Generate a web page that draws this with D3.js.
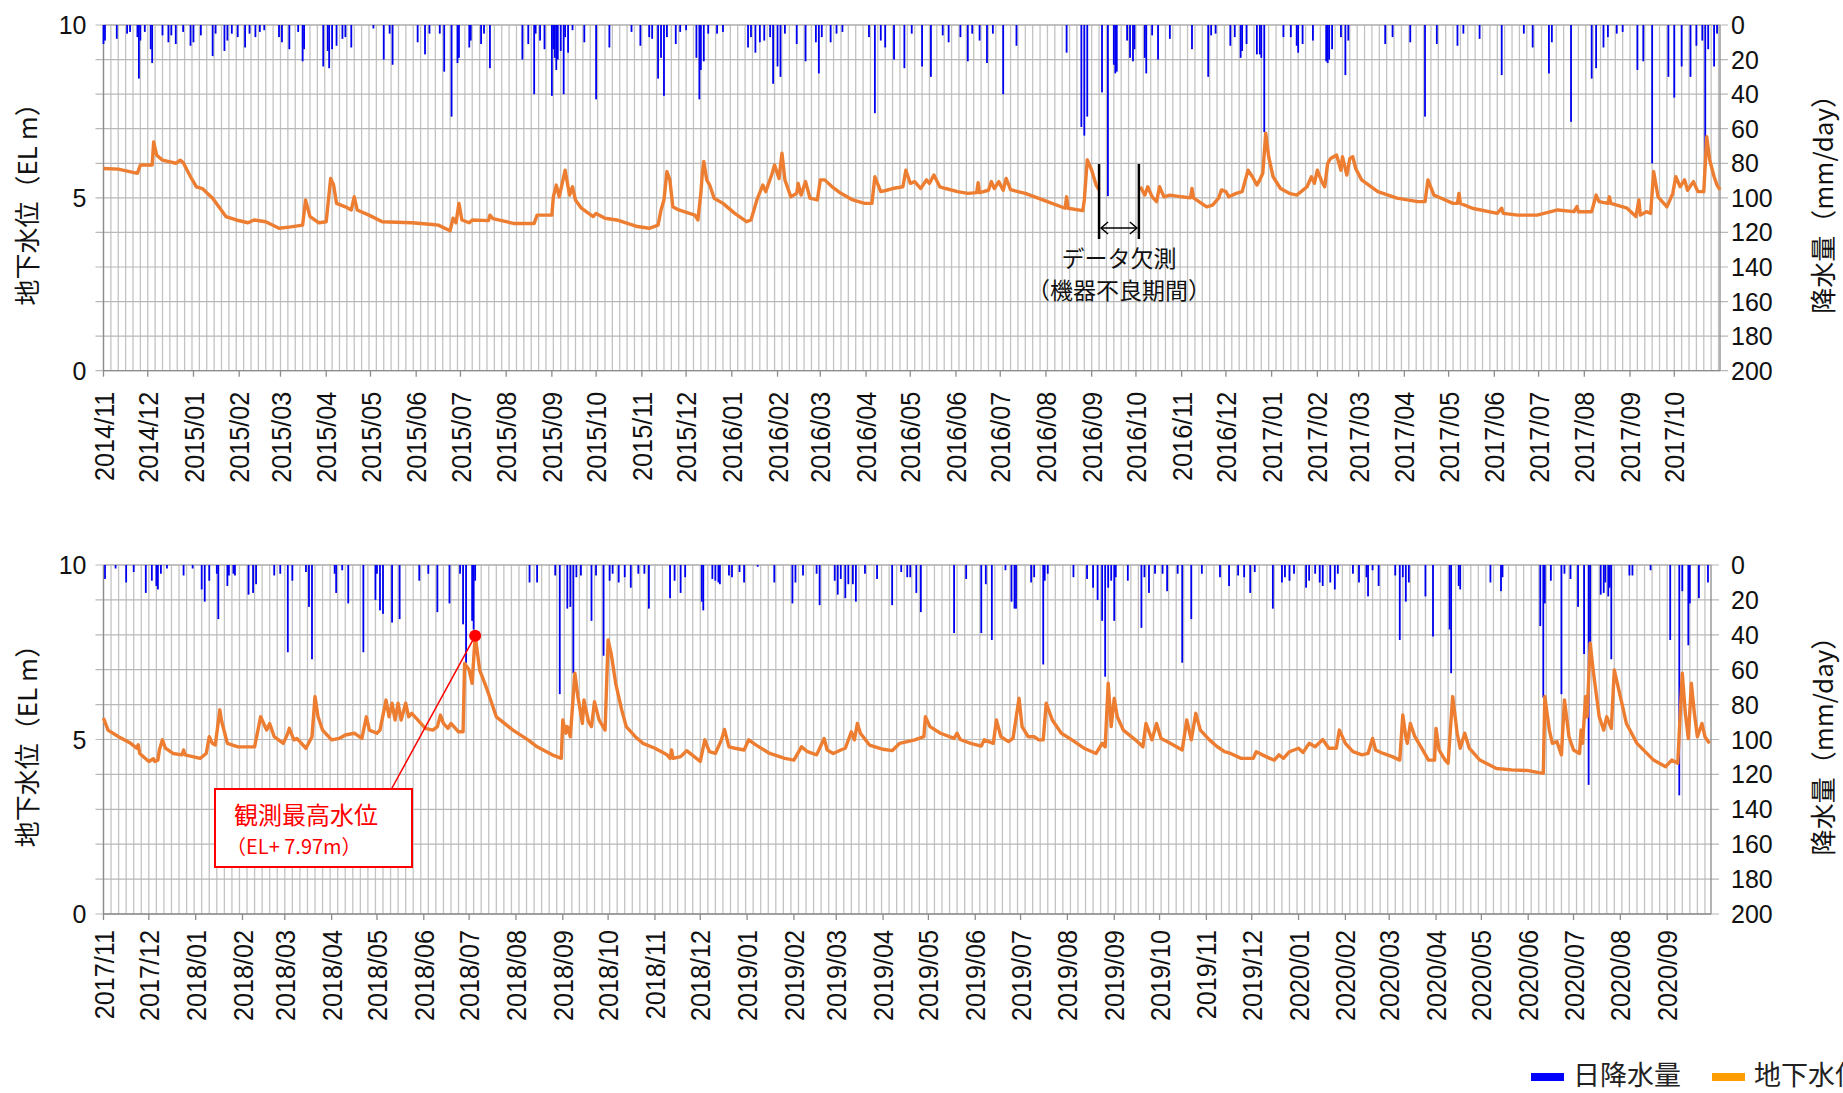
<!DOCTYPE html>
<html><head><meta charset="utf-8">
<script src="https://cdn.jsdelivr.net/npm/d3@7"></script>
<style>body{margin:0;background:#fff}svg{display:block}</style>
</head><body><svg id="c" width="1843" height="1093"></svg>
<script>
// ---------- DATA ----------
const topTickLabels = ["2014/11","2014/12","2015/01","2015/02","2015/03","2015/04","2015/05","2015/06","2015/07","2015/08","2015/09","2015/10","2015/11","2015/12","2016/01","2016/02","2016/03","2016/04","2016/05","2016/06","2016/07","2016/08","2016/09","2016/10","2016/11","2016/12","2017/01","2017/02","2017/03","2017/04","2017/05","2017/06","2017/07","2017/08","2017/09","2017/10"];
const bottomTickLabels = ["2017/11","2017/12","2018/01","2018/02","2018/03","2018/04","2018/05","2018/06","2018/07","2018/08","2018/09","2018/10","2018/11","2018/12","2019/01","2019/02","2019/03","2019/04","2019/05","2019/06","2019/07","2019/08","2019/09","2019/10","2019/11","2019/12","2020/01","2020/02","2020/03","2020/04","2020/05","2020/06","2020/07","2020/08","2020/09"];
const levelTickValues = [0,5,10];
const rainTickValues = [0,20,40,60,80,100,120,140,160,180,200];
const topRange = ["2014-11-01","2017-11-01"];
const bottomRange = ["2017-11-01","2020-09-30"];

// groundwater level (EL m), top period; null = missing data
const gwTop = [["2014-11-01",5.85],["2014-11-11",5.83],["2014-11-24",5.71],["2014-11-26",5.95],["2014-12-04",5.95],["2014-12-05",6.62],["2014-12-07",6.24],["2014-12-11",6.09],["2014-12-20",6.00],["2014-12-23",6.09],["2014-12-25",6.02],["2014-12-30",5.61],["2015-01-03",5.32],["2015-01-07",5.27],["2015-01-14",4.99],["2015-01-23",4.46],["2015-01-30",4.36],["2015-02-07",4.28],["2015-02-11",4.36],["2015-02-19",4.31],["2015-02-28",4.12],["2015-03-08",4.16],["2015-03-16",4.21],["2015-03-18",4.94],["2015-03-21",4.46],["2015-03-27",4.28],["2015-04-01",4.31],["2015-04-04",5.56],["2015-04-06",5.37],["2015-04-08",4.84],["2015-04-14",4.74],["2015-04-18",4.65],["2015-04-20",5.03],["2015-04-22",4.65],["2015-04-30",4.50],["2015-05-09",4.31],["2015-05-29",4.28],["2015-06-12",4.23],["2015-06-16",4.21],["2015-06-24",4.05],["2015-06-26",4.41],["2015-06-28",4.28],["2015-06-30",4.84],["2015-07-02",4.36],["2015-07-07",4.28],["2015-07-09",4.36],["2015-07-20",4.34],["2015-07-21",4.50],["2015-07-23",4.40],["2015-08-06",4.26],["2015-08-20",4.26],["2015-08-22",4.50],["2015-09-01",4.50],["2015-09-02",5.03],["2015-09-04",5.37],["2015-09-06",5.03],["2015-09-07",5.22],["2015-09-10",5.80],["2015-09-13",5.08],["2015-09-15",5.32],["2015-09-17",4.94],["2015-09-21",4.70],["2015-09-29",4.46],["2015-10-01",4.55],["2015-10-07",4.41],["2015-10-15",4.36],["2015-10-29",4.17],["2015-11-06",4.12],["2015-11-12",4.21],["2015-11-14",4.65],["2015-11-16",4.94],["2015-11-18",5.76],["2015-11-20",5.52],["2015-11-22",4.74],["2015-11-26",4.65],["2015-12-07",4.50],["2015-12-09",4.36],["2015-12-11",5.13],["2015-12-12",5.71],["2015-12-13",6.05],["2015-12-15",5.52],["2015-12-17",5.37],["2015-12-20",4.99],["2015-12-26",4.84],["2016-01-03",4.55],["2016-01-11",4.31],["2016-01-14",4.36],["2016-01-18",4.94],["2016-01-22",5.37],["2016-01-24",5.18],["2016-01-28",5.66],["2016-01-30",5.95],["2016-02-02",5.56],["2016-02-04",6.29],["2016-02-06",5.52],["2016-02-10",5.03],["2016-02-14",5.13],["2016-02-15",5.42],["2016-02-17",5.08],["2016-02-20",5.47],["2016-02-23",4.99],["2016-02-28",4.94],["2016-03-01",5.52],["2016-03-04",5.52],["2016-03-09",5.32],["2016-03-15",5.13],["2016-03-23",4.94],["2016-03-31",4.84],["2016-04-05",4.84],["2016-04-07",5.61],["2016-04-11",5.18],["2016-04-15",5.22],["2016-04-19",5.27],["2016-04-26",5.32],["2016-04-28",5.80],["2016-05-01",5.42],["2016-05-04",5.47],["2016-05-08",5.27],["2016-05-12",5.52],["2016-05-14",5.42],["2016-05-17",5.66],["2016-05-21",5.32],["2016-05-25",5.27],["2016-06-02",5.18],["2016-06-09",5.13],["2016-06-15",5.15],["2016-06-16",5.44],["2016-06-17",5.15],["2016-06-23",5.22],["2016-06-25",5.47],["2016-06-27",5.27],["2016-06-30",5.47],["2016-07-03",5.22],["2016-07-05",5.56],["2016-07-08",5.24],["2016-07-13",5.18],["2016-07-18",5.13],["2016-08-02",4.89],["2016-08-14",4.70],["2016-08-15",5.03],["2016-08-16",4.70],["2016-08-26",4.63],["2016-08-27",4.94],["2016-08-29",6.10],["2016-09-01",5.80],["2016-09-04",5.37],["2016-09-06",5.23],["2016-09-07",null],["2016-10-03",null],["2016-10-04",5.32],["2016-10-07",5.08],["2016-10-09",5.32],["2016-10-12",5.03],["2016-10-15",4.89],["2016-10-17",5.32],["2016-10-20",5.03],["2016-10-24",5.08],["2016-11-01",5.03],["2016-11-07",5.00],["2016-11-08",5.27],["2016-11-09",5.00],["2016-11-18",4.74],["2016-11-22",4.79],["2016-11-26",4.99],["2016-11-28",5.23],["2016-12-01",5.18],["2016-12-03",5.03],["2016-12-08",5.13],["2016-12-12",5.18],["2016-12-16",5.80],["2016-12-19",5.61],["2016-12-22",5.37],["2016-12-24",5.52],["2016-12-26",5.71],["2016-12-28",6.87],["2016-12-30",6.19],["2017-01-02",5.61],["2017-01-07",5.27],["2017-01-13",5.13],["2017-01-18",5.08],["2017-01-21",5.18],["2017-01-25",5.32],["2017-01-28",5.61],["2017-01-30",5.42],["2017-02-01",5.80],["2017-02-04",5.47],["2017-02-06",5.32],["2017-02-08",6.00],["2017-02-10",6.14],["2017-02-14",6.24],["2017-02-17",5.80],["2017-02-18",6.19],["2017-02-21",5.66],["2017-02-23",6.14],["2017-02-25",6.19],["2017-02-27",5.85],["2017-03-03",5.52],["2017-03-14",5.18],["2017-03-27",4.99],["2017-04-10",4.89],["2017-04-15",4.89],["2017-04-17",5.52],["2017-04-21",5.08],["2017-04-26",4.99],["2017-05-04",4.84],["2017-05-07",4.84],["2017-05-08",5.13],["2017-05-09",4.84],["2017-05-17",4.70],["2017-06-03",4.55],["2017-06-06",4.70],["2017-06-07",4.55],["2017-06-17",4.50],["2017-06-30",4.50],["2017-07-14",4.65],["2017-07-25",4.60],["2017-07-27",4.75],["2017-07-28",4.60],["2017-08-06",4.60],["2017-08-09",5.08],["2017-08-11",4.89],["2017-08-17",4.84],["2017-08-18",5.03],["2017-08-19",4.84],["2017-08-30",4.70],["2017-09-05",4.46],["2017-09-07",4.94],["2017-09-08",4.50],["2017-09-12",4.60],["2017-09-15",4.55],["2017-09-17",5.76],["2017-09-20",5.03],["2017-09-26",4.74],["2017-09-30",5.13],["2017-10-02",5.61],["2017-10-05",5.32],["2017-10-08",5.52],["2017-10-10",5.22],["2017-10-14",5.47],["2017-10-17",5.18],["2017-10-21",5.18],["2017-10-23",6.77],["2017-10-25",6.10],["2017-10-28",5.61],["2017-10-30",5.37],["2017-11-01",5.23]];

// daily rainfall (mm/day), top period (days not listed = 0)
const rainTop = [["2014-11-01",11],["2014-11-02",9],["2014-11-10",8],["2014-11-17",5],["2014-11-19",4],["2014-11-24",7],["2014-11-25",31],["2014-11-26",9],["2014-11-29",4],["2014-12-03",14],["2014-12-04",22],["2014-12-11",6],["2014-12-15",10],["2014-12-17",6],["2014-12-20",11],["2014-12-25",4],["2014-12-30",12],["2015-01-01",10],["2015-01-06",6],["2015-01-14",18],["2015-01-16",5],["2015-01-22",15],["2015-01-24",9],["2015-01-27",5],["2015-01-31",7],["2015-02-05",13],["2015-02-08",5],["2015-02-12",7],["2015-02-15",4],["2015-02-18",3],["2015-02-28",7],["2015-03-02",10],["2015-03-07",14],["2015-03-13",4],["2015-03-16",21],["2015-03-17",14],["2015-03-30",24],["2015-04-02",15],["2015-04-03",25],["2015-04-05",14],["2015-04-08",12],["2015-04-12",8],["2015-04-14",7],["2015-04-18",13],["2015-05-03",2],["2015-05-10",20],["2015-05-14",5],["2015-05-16",23],["2015-06-02",10],["2015-06-07",17],["2015-06-10",5],["2015-06-17",5],["2015-06-20",27],["2015-06-25",53],["2015-06-29",22],["2015-06-30",19],["2015-07-07",13],["2015-07-08",9],["2015-07-15",11],["2015-07-17",5],["2015-07-21",25],["2015-08-12",20],["2015-08-16",11],["2015-08-20",40],["2015-08-21",5],["2015-08-24",9],["2015-08-27",14],["2015-09-01",41],["2015-09-02",14],["2015-09-03",19],["2015-09-04",26],["2015-09-05",20],["2015-09-07",15],["2015-09-09",40],["2015-09-10",7],["2015-09-12",16],["2015-09-15",3],["2015-09-23",10],["2015-10-01",43],["2015-10-10",13],["2015-10-25",4],["2015-10-31",12],["2015-11-06",7],["2015-11-08",8],["2015-11-12",31],["2015-11-14",19],["2015-11-16",41],["2015-11-18",7],["2015-11-24",11],["2015-11-27",4],["2015-12-01",3],["2015-12-08",19],["2015-12-10",43],["2015-12-11",26],["2015-12-13",21],["2015-12-16",5],["2015-12-22",5],["2015-12-26",4],["2016-01-12",13],["2016-01-14",7],["2016-01-17",16],["2016-01-20",10],["2016-01-23",9],["2016-01-27",7],["2016-01-29",34],["2016-02-01",24],["2016-02-03",30],["2016-02-06",5],["2016-02-14",11],["2016-02-20",21],["2016-02-27",10],["2016-02-29",28],["2016-03-02",7],["2016-03-08",10],["2016-03-12",5],["2016-03-16",4],["2016-04-03",7],["2016-04-07",51],["2016-04-11",9],["2016-04-14",13],["2016-04-20",20],["2016-04-27",25],["2016-05-02",5],["2016-05-09",24],["2016-05-15",30],["2016-05-23",6],["2016-05-27",10],["2016-06-04",7],["2016-06-09",21],["2016-06-12",5],["2016-06-17",9],["2016-06-22",22],["2016-06-26",5],["2016-07-03",40],["2016-07-12",12],["2016-08-15",16],["2016-08-25",59],["2016-08-27",64],["2016-08-29",53],["2016-09-08",39],["2016-09-12",99],["2016-09-16",23],["2016-09-17",28],["2016-09-18",27],["2016-09-25",9],["2016-09-27",19],["2016-09-29",21],["2016-09-30",14],["2016-10-07",19],["2016-10-08",28],["2016-10-12",6],["2016-10-16",20],["2016-10-24",8],["2016-11-08",14],["2016-11-19",30],["2016-11-21",6],["2016-11-24",5],["2016-12-04",12],["2016-12-07",7],["2016-12-11",19],["2016-12-12",15],["2016-12-15",11],["2016-12-22",17],["2016-12-24",17],["2016-12-25",19],["2016-12-27",62],["2017-01-09",7],["2017-01-14",7],["2017-01-18",12],["2017-01-19",16],["2017-01-22",11],["2017-01-29",9],["2017-02-07",21],["2017-02-08",22],["2017-02-09",20],["2017-02-11",14],["2017-02-17",7],["2017-02-20",29],["2017-02-22",9],["2017-03-19",11],["2017-03-24",7],["2017-04-05",10],["2017-04-15",53],["2017-04-23",11],["2017-05-07",12],["2017-05-11",5],["2017-05-22",8],["2017-06-06",29],["2017-06-21",5],["2017-06-27",13],["2017-07-08",28],["2017-07-10",10],["2017-07-23",56],["2017-08-06",31],["2017-08-09",25],["2017-08-14",13],["2017-08-17",7],["2017-08-23",5],["2017-08-27",4],["2017-09-06",26],["2017-09-10",21],["2017-09-16",80],["2017-09-27",30],["2017-10-01",42],["2017-10-06",24],["2017-10-12",30],["2017-10-16",12],["2017-10-20",9],["2017-10-22",82],["2017-10-24",14],["2017-10-28",24],["2017-10-30",5]];

// groundwater level (EL m), bottom period
const gwBottom = [["2017-11-01",5.61],["2017-11-04",5.27],["2017-11-11",5.08],["2017-11-19",4.89],["2017-11-23",4.75],["2017-11-24",4.85],["2017-11-25",4.60],["2017-12-01",4.37],["2017-12-04",4.45],["2017-12-05",4.37],["2017-12-07",4.41],["2017-12-08",4.70],["2017-12-10",4.99],["2017-12-12",4.75],["2017-12-17",4.60],["2017-12-23",4.56],["2017-12-24",4.70],["2017-12-25",4.56],["2018-01-01",4.49],["2018-01-04",4.46],["2018-01-08",4.60],["2018-01-10",5.08],["2018-01-12",4.89],["2018-01-14",4.84],["2018-01-17",5.85],["2018-01-18",5.56],["2018-01-22",4.89],["2018-01-29",4.79],["2018-02-09",4.79],["2018-02-13",5.65],["2018-02-15",5.46],["2018-02-17",5.27],["2018-02-19",5.46],["2018-02-22",5.08],["2018-02-28",4.89],["2018-03-03",5.18],["2018-03-04",5.32],["2018-03-07",4.99],["2018-03-09",5.03],["2018-03-15",4.75],["2018-03-19",5.08],["2018-03-21",6.23],["2018-03-23",5.65],["2018-03-26",5.27],["2018-04-01",4.99],["2018-04-06",5.03],["2018-04-10",5.13],["2018-04-16",5.18],["2018-04-21",5.03],["2018-04-24",5.65],["2018-04-26",5.27],["2018-05-01",5.18],["2018-05-03",5.27],["2018-05-07",6.13],["2018-05-09",5.65],["2018-05-11",6.04],["2018-05-13",5.56],["2018-05-15",6.04],["2018-05-17",5.56],["2018-05-20",6.04],["2018-05-22",5.65],["2018-05-24",5.75],["2018-05-28",5.56],["2018-06-02",5.32],["2018-06-07",5.27],["2018-06-10",5.37],["2018-06-12",5.70],["2018-06-14",5.46],["2018-06-17",5.32],["2018-06-19",5.46],["2018-06-24",5.22],["2018-06-27",5.22],["2018-06-28",7.18],["2018-07-01",6.99],["2018-07-03",6.61],["2018-07-05",7.97],["2018-07-08",6.99],["2018-07-13",6.42],["2018-07-19",5.65],["2018-07-30",5.27],["2018-08-09",4.99],["2018-08-15",4.79],["2018-08-25",4.56],["2018-08-31",4.46],["2018-09-01",5.56],["2018-09-03",5.18],["2018-09-04",5.37],["2018-09-06",5.08],["2018-09-09",6.90],["2018-09-11",6.23],["2018-09-14",5.46],["2018-09-15",6.13],["2018-09-18",5.51],["2018-09-20",5.37],["2018-09-22",6.08],["2018-09-25",5.56],["2018-09-29",5.27],["2018-10-01",7.85],["2018-10-03",7.47],["2018-10-06",6.61],["2018-10-10",5.85],["2018-10-13",5.37],["2018-10-19",5.08],["2018-10-24",4.89],["2018-11-01",4.75],["2018-11-09",4.56],["2018-11-11",4.46],["2018-11-12",4.70],["2018-11-13",4.46],["2018-11-18",4.51],["2018-11-22",4.68],["2018-11-27",4.51],["2018-12-01",4.37],["2018-12-04",4.99],["2018-12-07",4.65],["2018-12-11",4.60],["2018-12-15",4.99],["2018-12-17",5.29],["2018-12-20",4.79],["2018-12-24",4.75],["2018-12-30",4.70],["2019-01-02",4.99],["2019-01-07",4.84],["2019-01-16",4.60],["2019-01-26",4.46],["2019-02-01",4.41],["2019-02-06",4.79],["2019-02-10",4.65],["2019-02-16",4.56],["2019-02-21",5.03],["2019-02-23",4.70],["2019-02-27",4.60],["2019-03-04",4.70],["2019-03-07",4.75],["2019-03-11",5.22],["2019-03-13",4.99],["2019-03-15",5.46],["2019-03-17",5.18],["2019-03-23",4.84],["2019-04-01",4.72],["2019-04-07",4.68],["2019-04-12",4.89],["2019-04-22",4.99],["2019-04-28",5.08],["2019-04-29",5.65],["2019-05-02",5.37],["2019-05-09",5.18],["2019-05-18",5.03],["2019-05-20",5.18],["2019-05-22",5.00],["2019-05-29",4.89],["2019-06-05",4.81],["2019-06-07",4.99],["2019-06-13",4.89],["2019-06-15",5.56],["2019-06-18",5.08],["2019-06-23",4.94],["2019-06-26",5.03],["2019-06-30",6.18],["2019-07-02",5.37],["2019-07-06",5.08],["2019-07-10",5.08],["2019-07-13",4.99],["2019-07-16",4.99],["2019-07-18",6.04],["2019-07-22",5.56],["2019-07-28",5.18],["2019-08-04",4.99],["2019-08-12",4.75],["2019-08-20",4.60],["2019-08-24",4.89],["2019-08-26",4.79],["2019-08-28",6.61],["2019-08-30",5.37],["2019-09-01",6.18],["2019-09-03",5.65],["2019-09-07",5.27],["2019-09-15",4.99],["2019-09-20",4.79],["2019-09-22",5.46],["2019-09-26",4.99],["2019-09-29",5.46],["2019-10-02",5.03],["2019-10-06",4.94],["2019-10-16",4.70],["2019-10-19",5.56],["2019-10-22",4.99],["2019-10-25",5.75],["2019-10-28",5.27],["2019-11-03",4.99],["2019-11-08",4.80],["2019-11-13",4.65],["2019-11-17",4.60],["2019-11-24",4.46],["2019-12-02",4.46],["2019-12-04",4.65],["2019-12-08",4.56],["2019-12-13",4.46],["2019-12-16",4.41],["2019-12-19",4.56],["2019-12-22",4.46],["2019-12-26",4.65],["2020-01-01",4.75],["2020-01-04",4.63],["2020-01-08",4.89],["2020-01-12",4.79],["2020-01-17",5.00],["2020-01-21",4.75],["2020-01-26",4.75],["2020-01-28",5.27],["2020-02-01",4.89],["2020-02-06",4.65],["2020-02-12",4.56],["2020-02-16",4.60],["2020-02-19",5.03],["2020-02-21",4.70],["2020-02-26",4.60],["2020-03-03",4.51],["2020-03-08",4.41],["2020-03-10",5.70],["2020-03-12",5.08],["2020-03-13",4.89],["2020-03-15",5.46],["2020-03-18",5.08],["2020-03-22",4.79],["2020-03-27",4.41],["2020-03-31",4.41],["2020-04-01",5.32],["2020-04-03",4.70],["2020-04-07",4.41],["2020-04-09",4.32],["2020-04-12",6.23],["2020-04-15",5.18],["2020-04-17",4.75],["2020-04-20",5.18],["2020-04-23",4.75],["2020-04-30",4.41],["2020-05-11",4.17],["2020-05-21",4.13],["2020-06-01",4.11],["2020-06-08",4.05],["2020-06-11",4.03],["2020-06-12",6.23],["2020-06-15",5.27],["2020-06-17",4.89],["2020-06-20",4.94],["2020-06-23",4.56],["2020-06-25",6.13],["2020-06-28",5.08],["2020-07-01",4.70],["2020-07-05",4.60],["2020-07-06",5.27],["2020-07-07",4.89],["2020-07-09",6.23],["2020-07-10",5.65],["2020-07-12",7.76],["2020-07-14",6.99],["2020-07-18",5.65],["2020-07-21",5.27],["2020-07-23",5.65],["2020-07-26",5.32],["2020-07-28",6.99],["2020-08-01",6.23],["2020-08-05",5.46],["2020-08-12",4.89],["2020-08-23",4.41],["2020-08-31",4.22],["2020-09-04",4.41],["2020-09-08",4.32],["2020-09-09",5.20],["2020-09-11",6.90],["2020-09-13",5.75],["2020-09-15",5.03],["2020-09-17",6.61],["2020-09-19",5.75],["2020-09-21",5.08],["2020-09-24",5.46],["2020-09-26",5.08],["2020-09-29",4.89]];

// daily rainfall (mm/day), bottom period
const rainBottom = [["2017-11-02",8],["2017-11-09",2],["2017-11-16",10],["2017-11-21",4],["2017-11-29",16],["2017-12-03",9],["2017-12-06",12],["2017-12-07",14],["2017-12-09",5],["2017-12-13",2],["2017-12-24",6],["2017-12-30",2],["2018-01-05",14],["2018-01-07",21],["2018-01-10",9],["2018-01-15",5],["2018-01-16",31],["2018-01-22",12],["2018-01-23",6],["2018-01-26",5],["2018-01-27",6],["2018-02-05",17],["2018-02-08",16],["2018-02-10",11],["2018-02-22",6],["2018-02-26",5],["2018-03-03",50],["2018-03-06",9],["2018-03-15",4],["2018-03-17",24],["2018-03-19",54],["2018-04-03",5],["2018-04-04",16],["2018-04-08",3],["2018-04-12",22],["2018-04-22",50],["2018-04-30",20],["2018-05-01",5],["2018-05-03",26],["2018-05-05",28],["2018-05-11",33],["2018-05-16",31],["2018-05-29",9],["2018-06-04",5],["2018-06-10",27],["2018-06-18",22],["2018-06-25",5],["2018-06-27",34],["2018-06-29",56],["2018-07-03",32],["2018-07-04",37],["2018-07-05",9],["2018-08-10",10],["2018-08-15",10],["2018-08-27",6],["2018-08-30",74],["2018-09-04",25],["2018-09-06",24],["2018-09-08",62],["2018-09-10",7],["2018-09-13",6],["2018-09-20",32],["2018-09-23",6],["2018-09-28",52],["2018-10-02",9],["2018-10-04",5],["2018-10-08",10],["2018-10-12",7],["2018-10-16",13],["2018-10-21",5],["2018-10-25",5],["2018-10-28",25],["2018-11-11",19],["2018-11-14",9],["2018-11-18",16],["2018-11-21",7],["2018-12-02",21],["2018-12-03",26],["2018-12-09",8],["2018-12-11",9],["2018-12-13",10],["2018-12-14",11],["2018-12-20",6],["2018-12-22",7],["2018-12-27",4],["2018-12-30",10],["2019-01-08",1],["2019-01-19",10],["2019-01-31",22],["2019-02-02",10],["2019-02-07",6],["2019-02-16",5],["2019-02-18",23],["2019-02-28",9],["2019-03-02",17],["2019-03-04",8],["2019-03-07",19],["2019-03-09",11],["2019-03-12",11],["2019-03-14",21],["2019-03-20",5],["2019-03-28",8],["2019-04-07",23],["2019-04-13",4],["2019-04-17",7],["2019-04-19",7],["2019-04-23",16],["2019-04-26",27],["2019-05-18",39],["2019-05-26",8],["2019-06-05",39],["2019-06-08",11],["2019-06-12",43],["2019-06-21",3],["2019-06-25",21],["2019-06-27",25],["2019-06-28",25],["2019-07-08",10],["2019-07-10",7],["2019-07-16",57],["2019-07-17",9],["2019-07-19",5],["2019-08-05",7],["2019-08-14",8],["2019-08-18",13],["2019-08-21",20],["2019-08-24",32],["2019-08-26",64],["2019-08-28",13],["2019-08-30",9],["2019-09-01",32],["2019-09-02",7],["2019-09-10",9],["2019-09-19",36],["2019-09-21",7],["2019-09-24",16],["2019-09-28",5],["2019-10-03",5],["2019-10-06",15],["2019-10-13",5],["2019-10-16",56],["2019-10-22",31],["2019-10-29",5],["2019-11-10",7],["2019-11-16",12],["2019-11-22",6],["2019-11-26",7],["2019-11-30",16],["2019-12-03",4],["2019-12-15",25],["2019-12-21",10],["2019-12-23",7],["2019-12-26",9],["2019-12-29",5],["2020-01-06",13],["2020-01-08",9],["2020-01-12",5],["2020-01-15",10],["2020-01-17",12],["2020-01-22",10],["2020-01-25",14],["2020-01-27",5],["2020-02-06",5],["2020-02-10",10],["2020-02-15",7],["2020-02-16",18],["2020-02-19",3],["2020-02-23",12],["2020-03-05",6],["2020-03-08",43],["2020-03-10",7],["2020-03-12",21],["2020-03-14",10],["2020-03-25",18],["2020-03-30",41],["2020-04-10",37],["2020-04-11",62],["2020-04-16",12],["2020-04-17",14],["2020-05-07",10],["2020-05-14",15],["2020-05-15",7],["2020-06-09",35],["2020-06-11",76],["2020-06-12",22],["2020-06-16",9],["2020-06-23",74],["2020-06-25",5],["2020-06-29",8],["2020-07-04",24],["2020-07-08",51],["2020-07-11",126],["2020-07-12",44],["2020-07-19",17],["2020-07-21",16],["2020-07-22",10],["2020-07-24",18],["2020-07-25",13],["2020-07-26",54],["2020-08-07",6],["2020-08-09",6],["2020-08-21",3],["2020-09-03",43],["2020-09-09",132],["2020-09-11",15],["2020-09-15",46],["2020-09-16",22],["2020-09-22",19],["2020-09-28",10]];

const peakPoint = ["2018-07-05", 7.97];
const gapBounds = ["2016-09-06", "2016-10-03"];
const legendItems = [["日降水量","#0000ff"],["地下水位","#ff9c00"]];

// ---------- DRAW ----------
const parse = d3.timeParse("%Y-%m-%d");
const parseTick = d3.timeParse("%Y/%m");
const svg = d3.select("#c");
svg.append("rect").attr("width",1843).attr("height",1093).attr("fill","#fff");
const NUM = "'Liberation Sans', Arial, sans-serif";
const JP = "'Noto Sans CJK JP', 'Noto Sans', sans-serif";

function drawPanel(cfg){
  const g = svg.append("g");
  const start = parse(cfg.range[0]), end = parse(cfg.range[1]);
  const x = d3.scaleTime().domain([start,end]).range([cfg.x0,cfg.x1]);
  const yL = d3.scaleLinear().domain([0,10]).range([cfg.yb,cfg.yt]);
  const yR = d3.scaleLinear().domain([0,200]).range([cfg.yt,cfg.yb]);
  const nDays = d3.timeDay.count(start,end);

  // vertical grid every 5 days
  g.append("g").selectAll("line").data(d3.range(0,nDays+1,5)).join("line")
    .attr("x1",d=>x(d3.timeDay.offset(start,d))).attr("x2",d=>x(d3.timeDay.offset(start,d)))
    .attr("y1",cfg.yt).attr("y2",cfg.yb).attr("stroke","#c3c3c3").attr("stroke-width",1.3);
  // horizontal grid + tick marks on both sides
  const hv = d3.range(0,11);
  g.append("g").selectAll("line").data(hv).join("line")
    .attr("x1",cfg.x0-8).attr("x2",cfg.x1+8).attr("y1",d=>yL(d)).attr("y2",d=>yL(d))
    .attr("stroke","#b8b8b8").attr("stroke-width",1.2);
  // frame
  g.append("line").attr("x1",cfg.x0).attr("x2",cfg.x0).attr("y1",cfg.yt).attr("y2",cfg.yb).attr("stroke","#8c8c8c").attr("stroke-width",1.3);
  g.append("line").attr("x1",cfg.x1).attr("x2",cfg.x1).attr("y1",cfg.yt).attr("y2",cfg.yb).attr("stroke","#8c8c8c").attr("stroke-width",1.3);
  g.append("line").attr("x1",cfg.x0).attr("x2",cfg.x1).attr("y1",cfg.yb).attr("y2",cfg.yb).attr("stroke","#8c8c8c").attr("stroke-width",1.3);
  g.append("line").attr("x1",cfg.x0).attr("x2",cfg.x1).attr("y1",cfg.yt).attr("y2",cfg.yt).attr("stroke","#a8a8a8").attr("stroke-width",1.2);

  // month ticks + labels
  const ticks = cfg.labels.map(l=>({l, d: parseTick(l)}));
  g.append("g").selectAll("line").data(ticks).join("line")
    .attr("x1",d=>x(d.d)).attr("x2",d=>x(d.d)).attr("y1",cfg.yb).attr("y2",cfg.yb+6)
    .attr("stroke","#8c8c8c").attr("stroke-width",1.3);
  g.append("g").selectAll("text").data(ticks).join("text")
    .attr("transform",d=>`translate(${x(d.d)},${cfg.yb+cfg.labGap}) rotate(-90) scale(0.9,1)`)
    .attr("text-anchor","end").attr("dy","0.36em")
    .attr("font-family",NUM).attr("font-size",28).attr("fill","#111").text(d=>d.l);

  // rain bars
  g.append("g").selectAll("rect").data(cfg.rain).join("rect")
    .attr("x",d=>x(parse(d[0]))-0.9).attr("width",1.8)
    .attr("y",cfg.yt).attr("height",d=>yR(d[1])-cfg.yt).attr("fill","#0000f0");

  // groundwater line
  const line = d3.line().defined(d=>d[1]!=null).x(d=>x(parse(d[0]))).y(d=>yL(d[1]));
  g.append("path").datum(cfg.gw).attr("d",line).attr("fill","none")
    .attr("stroke","#ed7d31").attr("stroke-width",3.4).attr("stroke-linejoin","round");

  // axis labels
  g.append("g").selectAll("text").data(levelTickValues).join("text")
    .attr("x",cfg.x0-17).attr("y",d=>yL(d)).attr("dy","0.36em").attr("text-anchor","end")
    .attr("font-family",NUM).attr("font-size",25).attr("fill","#111").text(d=>d);
  g.append("g").selectAll("text").data(rainTickValues).join("text")
    .attr("x",1731).attr("y",d=>yR(d)).attr("dy","0.36em").attr("text-anchor","start")
    .attr("font-family",NUM).attr("font-size",25).attr("fill","#111").text(d=>d);
  const yc = (cfg.yt+cfg.yb)/2;
  g.append("text").attr("transform",`translate(28,${yc}) rotate(-90)`).attr("text-anchor","middle").attr("dy","0.36em")
    .attr("font-family",JP).attr("font-size",26).attr("fill","#111").text("地下水位（EL m）");
  g.append("text").attr("transform",`translate(1824,${yc}) rotate(-90)`).attr("text-anchor","middle").attr("dy","0.36em")
    .attr("font-family",JP).attr("font-size",26).attr("fill","#111").text("降水量（mm/day）");
  return {x,yL,yR,g};
}

const P1 = drawPanel({range:topRange, x0:103.5, x1:1720, yt:25, yb:370.7, labels:topTickLabels, rain:rainTop, gw:gwTop, labGap:21});
const P2 = drawPanel({range:bottomRange, x0:103.5, x1:1711, yt:565, yb:914, labels:bottomTickLabels, rain:rainBottom, gw:gwBottom, labGap:16});

// top annotation: missing data
{
  const xa = P1.x(parse(gapBounds[0])), xb = P1.x(parse(gapBounds[1]));
  const a = svg.append("g").attr("stroke","#000");
  a.append("line").attr("x1",xa).attr("x2",xa).attr("y1",164).attr("y2",239).attr("stroke-width",2.5);
  a.append("line").attr("x1",xb).attr("x2",xb).attr("y1",164).attr("y2",239).attr("stroke-width",2.5);
  const ay = 228;
  a.append("line").attr("x1",xa+2).attr("x2",xb-2).attr("y1",ay).attr("y2",ay).attr("stroke-width",1.5);
  a.append("path").attr("d",`M${xa+9},${ay-6} L${xa+2},${ay} L${xa+9},${ay+6} M${xb-9},${ay-6} L${xb-2},${ay} L${xb-9},${ay+6}`)
    .attr("fill","none").attr("stroke-width",1.5);
  const cx = (xa+xb)/2;
  svg.append("text").attr("x",cx).attr("y",259).attr("dy","0.36em").attr("text-anchor","middle")
    .attr("font-family",JP).attr("font-size",23).attr("fill","#111").text("データ欠測");
  svg.append("text").attr("x",cx).attr("y",291).attr("dy","0.36em").attr("text-anchor","middle")
    .attr("font-family",JP).attr("font-size",23).attr("fill","#111").text("（機器不良期間）");
}

// bottom annotation: highest observed level
{
  const px = P2.x(parse(peakPoint[0])), py = P2.yL(peakPoint[1]);
  svg.append("line").attr("x1",px).attr("y1",py).attr("x2",391.5).attr("y2",789).attr("stroke","#ff0000").attr("stroke-width",1.5);
  svg.append("rect").attr("x",215).attr("y",789).attr("width",197).attr("height",78)
    .attr("fill","#fff").attr("stroke","#ff0000").attr("stroke-width",2);
  svg.append("circle").attr("cx",px).attr("cy",py).attr("r",6).attr("fill","#ff0000");
  svg.append("text").attr("x",234).attr("y",815).attr("dy","0.36em")
    .attr("font-family",JP).attr("font-size",24).attr("fill","#ff0000").text("観測最高水位");
  svg.append("text").attr("x",226).attr("y",847).attr("dy","0.36em")
    .attr("font-family",JP).attr("font-size",20).attr("fill","#ff0000").text(`（EL+ ${peakPoint[1]}m）`);
}

// legend (the second entry runs off the right edge, as in the reference)
{
  const lx = [1531, 1712];
  legendItems.forEach((it,i)=>{
    svg.append("rect").attr("x",lx[i]).attr("y",1073).attr("width",33).attr("height",8).attr("fill",it[1]);
    svg.append("text").attr("x",lx[i]+42).attr("y",1076).attr("dy","0.34em")
      .attr("font-family",JP).attr("font-size",27).attr("fill","#222").text(it[0]);
  });
}
</script></body></html>
